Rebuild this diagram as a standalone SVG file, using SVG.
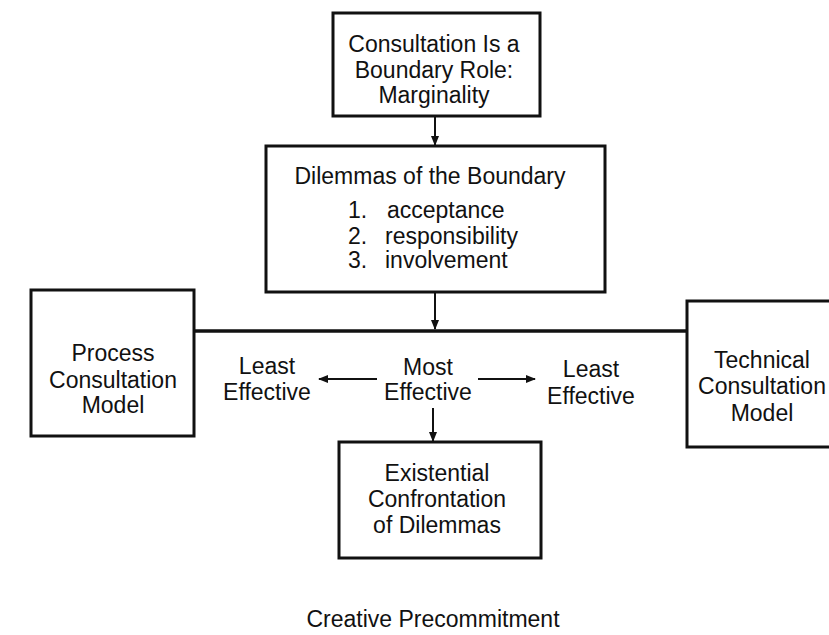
<svg xmlns="http://www.w3.org/2000/svg" width="829" height="635" viewBox="0 0 829 635">
<style>
text{font-family:"Liberation Sans",Arial,sans-serif;font-size:23px;fill:#111;text-anchor:middle}
.box{fill:#fff;stroke:#111;stroke-width:3}
.ln{stroke:#111;stroke-width:2;fill:none}
</style>
<defs>
<marker id="ah" markerWidth="10" markerHeight="10" refX="9" refY="5" orient="auto" markerUnits="userSpaceOnUse">
<path d="M0,1 L10,5 L0,9 Z" fill="#111"/>
</marker>
</defs>
<rect width="829" height="635" fill="#fff"/>
<g id="connectors">
<line class="ln" x1="435" y1="116" x2="435" y2="145" marker-end="url(#ah)"/>
<line class="ln" x1="435" y1="292" x2="435" y2="329" marker-end="url(#ah)"/>
<line x1="194" y1="331" x2="687" y2="331" stroke="#111" stroke-width="3.5"/>
<line class="ln" x1="377" y1="379" x2="319" y2="379" marker-end="url(#ah)"/>
<line class="ln" x1="478" y1="379" x2="535" y2="379" marker-end="url(#ah)"/>
<line class="ln" x1="433" y1="408" x2="433" y2="441" marker-end="url(#ah)"/>
</g>
<g id="marginality">
<rect class="box" x="333" y="13" width="207" height="103"/>
<text x="434" y="52">Consultation Is a</text>
<text x="434" y="78">Boundary Role:</text>
<text x="434" y="103">Marginality</text>
</g>
<g id="dilemmas">
<rect class="box" x="266" y="146" width="339" height="146"/>
<text x="430" y="184">Dilemmas of the Boundary</text>
<text x="348" y="218" style="text-anchor:start">1.</text>
<text x="387" y="218" style="text-anchor:start">acceptance</text>
<text x="348" y="244" style="text-anchor:start">2.</text>
<text x="385" y="244" style="text-anchor:start">responsibility</text>
<text x="348" y="268" style="text-anchor:start">3.</text>
<text x="385" y="268" style="text-anchor:start">involvement</text>
</g>
<g id="process">
<rect class="box" x="31" y="290" width="163" height="146"/>
<text x="113" y="361">Process</text>
<text x="113" y="388">Consultation</text>
<text x="113" y="413">Model</text>
</g>
<g id="technical">
<rect class="box" x="687" y="301" width="150" height="146"/>
<text x="762" y="368">Technical</text>
<text x="762" y="394">Consultation</text>
<text x="762" y="421">Model</text>
</g>
<g id="least-left">
<text x="267" y="374">Least</text>
<text x="267" y="400">Effective</text>
</g>
<g id="most">
<text x="428" y="375">Most</text>
<text x="428" y="400">Effective</text>
</g>
<g id="least-right">
<text x="591" y="377">Least</text>
<text x="591" y="404">Effective</text>
</g>
<g id="existential">
<rect class="box" x="339" y="442" width="202" height="116"/>
<text x="437" y="481">Existential</text>
<text x="437" y="507">Confrontation</text>
<text x="437" y="533">of Dilemmas</text>
</g>
<g id="creative">
<text x="433" y="627">Creative Precommitment</text>
</g>
</svg>
